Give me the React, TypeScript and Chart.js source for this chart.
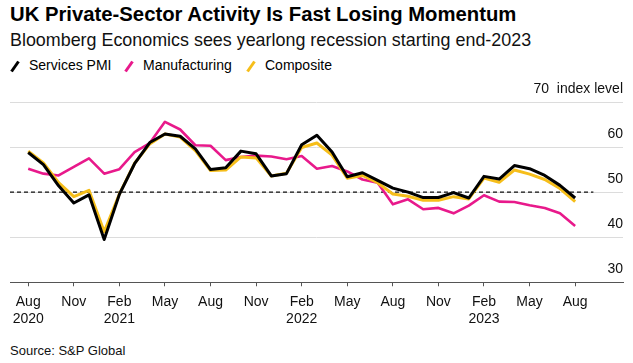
import React, { useEffect, useRef } from "react";
import { Chart, registerables } from "chart.js";

Chart.register(...registerables);

const months = [
  "Aug 2020", "Sep 2020", "Oct 2020", "Nov 2020", "Dec 2020",
  "Jan 2021", "Feb 2021", "Mar 2021", "Apr 2021", "May 2021", "Jun 2021", "Jul 2021",
  "Aug 2021", "Sep 2021", "Oct 2021", "Nov 2021", "Dec 2021",
  "Jan 2022", "Feb 2022", "Mar 2022", "Apr 2022", "May 2022", "Jun 2022", "Jul 2022",
  "Aug 2022", "Sep 2022", "Oct 2022", "Nov 2022", "Dec 2022",
  "Jan 2023", "Feb 2023", "Mar 2023", "Apr 2023", "May 2023", "Jun 2023", "Jul 2023",
  "Aug 2023",
];

const services = [
  58.8, 56.1, 51.4, 47.6, 49.4, 39.5, 49.5, 56.3, 61.0, 62.9, 62.4, 59.6,
  55.0, 55.4, 59.1, 58.5, 53.6, 54.1, 60.5, 62.6, 58.9, 53.4, 54.3, 52.6,
  50.9, 50.0, 48.8, 48.8, 49.9, 48.7, 53.5, 52.9, 55.9, 55.2, 53.7, 51.5,
  48.7,
];

const manufacturing = [
  55.2, 54.1, 53.7, 55.6, 57.5, 54.1, 55.1, 58.9, 60.9, 65.6, 63.9, 60.4,
  60.3, 57.1, 57.8, 58.1, 57.9, 57.3, 58.0, 55.2, 55.8, 54.6, 52.8, 52.1,
  47.3, 48.4, 46.2, 46.5, 45.3, 47.0, 49.3, 47.9, 47.8, 47.1, 46.5, 45.3,
  42.5,
];

const composite = [
  59.1, 56.5, 52.1, 49.0, 50.4, 41.2, 49.6, 56.4, 60.7, 62.9, 62.2, 59.2,
  54.8, 54.9, 57.8, 57.6, 53.6, 54.2, 59.9, 60.9, 58.2, 53.1, 53.7, 52.1,
  49.6, 49.1, 48.2, 48.2, 49.0, 48.5, 53.1, 52.2, 54.9, 54.0, 52.8, 50.8,
  47.9,
];

const yTicks = [30, 40, 50, 60, 70];
const yUnit = "index level";
const referenceLevel = 50;
const xTickEveryMonths = 3;
const yearLabelMonth = "Feb";

const FONT = '"Liberation Sans", Arial, Helvetica, sans-serif';
const BLACK = "#000000";
const PINK = "#e8198b";
const YELLOW = "#f6be1a";

// x-axis padding, in months, before the first and after the last point
const PAD_START = 1.2;
const PAD_END = 3.15;

const legendItems = [
  { label: "Services PMI", color: BLACK, left: 10 },
  { label: "Manufacturing", color: PINK, left: 124 },
  { label: "Composite", color: YELLOW, left: 246 },
];

function tickLabel(i: number): string | string[] {
  const m = months[i];
  if (!m) return "";
  const [mon, yr] = m.split(" ");
  if (i === 0 || mon === yearLabelMonth) return [mon, yr];
  return mon;
}

export default function App() {
  const canvasRef = useRef<HTMLCanvasElement | null>(null);

  useEffect(() => {
    const canvas = canvasRef.current;
    if (!canvas) return;
    const toXY = (arr: number[]) => arr.map((v, i) => ({ x: i, y: v }));
    const last = months.length - 1;

    const chart = new Chart(canvas, {
      type: "line",
      data: {
        datasets: [
          {
            label: "Services PMI",
            data: toXY(services),
            borderColor: BLACK,
            borderWidth: 3,
            pointRadius: 0,
            borderJoinStyle: "round",
            tension: 0,
          },
          {
            label: "Composite",
            data: toXY(composite),
            borderColor: YELLOW,
            borderWidth: 3,
            pointRadius: 0,
            borderJoinStyle: "round",
            tension: 0,
          },
          {
            label: "Manufacturing",
            data: toXY(manufacturing),
            borderColor: PINK,
            borderWidth: 2.6,
            pointRadius: 0,
            borderJoinStyle: "round",
            tension: 0,
          },
          {
            label: "ref",
            data: [
              { x: -PAD_START, y: referenceLevel },
              { x: last + PAD_START, y: referenceLevel },
            ],
            borderColor: "#111",
            borderWidth: 1.4,
            borderDash: [4, 3],
            pointRadius: 0,
          },
        ],
      },
      options: {
        animation: false,
        responsive: false,
        devicePixelRatio: 1,
        layout: { padding: { left: 10, right: 10, top: 24, bottom: 0 } },
        plugins: { legend: { display: false }, tooltip: { enabled: false }, title: { display: false } },
        scales: {
          x: {
            type: "linear",
            min: -PAD_START,
            max: last + PAD_END,
            afterBuildTicks: (scale: any) => {
              scale.ticks = months
                .map((_, i) => i)
                .filter((i) => i % xTickEveryMonths === 0)
                .map((v) => ({ value: v }));
            },
            grid: {
              drawOnChartArea: false,
              drawTicks: true,
              tickLength: 4,
              color: "#555",
            },
            border: { display: true, color: "#555", width: 1 },
            ticks: {
              autoSkip: false,
              maxRotation: 0,
              padding: 7,
              color: "#111",
              font: { family: FONT, size: 14, lineHeight: 1.24 },
              callback: (v: any) => tickLabel(Number(v)),
            },
          },
          y: {
            type: "linear",
            position: "right",
            min: yTicks[0],
            max: yTicks[yTicks.length - 1],
            afterBuildTicks: (scale: any) => {
              scale.ticks = yTicks.map((v) => ({ value: v }));
            },
            grid: { color: "#dcdcdc", drawTicks: false, lineWidth: 1 },
            border: { display: false },
            ticks: {
              mirror: true,
              padding: 0,
              labelOffset: -13,
              color: "#111",
              font: { family: FONT, size: 14 },
              callback: (v: any) =>
                Number(v) === yTicks[yTicks.length - 1] ? `${v}  ${yUnit}` : String(v),
            },
          },
        },
      },
    });
    return () => chart.destroy();
  }, []);

  return (
    <div
      style={{
        position: "fixed",
        left: 0,
        top: 0,
        width: 633,
        height: 363,
        background: "#fff",
        fontFamily: FONT,
        color: "#000",
        overflow: "hidden",
      }}
    >
      <div style={{ position: "absolute", left: 10, top: 4, fontSize: 20.3, lineHeight: "20px", fontWeight: 700, whiteSpace: "nowrap" }}>
        UK Private-Sector Activity Is Fast Losing Momentum
      </div>
      <div style={{ position: "absolute", left: 10, top: 31, fontSize: 17.9, lineHeight: "18px", whiteSpace: "nowrap", color: "#111" }}>
        Bloomberg Economics sees yearlong recession starting end-2023
      </div>
      {legendItems.map((it) => (
        <div key={it.label} style={{ position: "absolute", left: it.left, top: 58, height: 14, display: "flex", alignItems: "flex-start", whiteSpace: "nowrap" }}>
          <svg width={10} height={14} style={{ display: "block", marginTop: 1 }}>
            <line x1={1.5} y1={12.5} x2={8.5} y2={2.5} stroke={it.color} strokeWidth={3} />
          </svg>
          <span style={{ marginLeft: 9, fontSize: 14, lineHeight: "14px" }}>{it.label}</span>
        </div>
      ))}
      <div style={{ position: "absolute", left: 0, top: 78 }}>
        <canvas ref={canvasRef} width={633} height={257} style={{ display: "block", width: 633, height: 257 }} />
      </div>
      <div style={{ position: "absolute", left: 10, top: 344, fontSize: 13, lineHeight: "13px", whiteSpace: "nowrap", color: "#111" }}>
        Source: S&amp;P Global
      </div>
    </div>
  );
}
